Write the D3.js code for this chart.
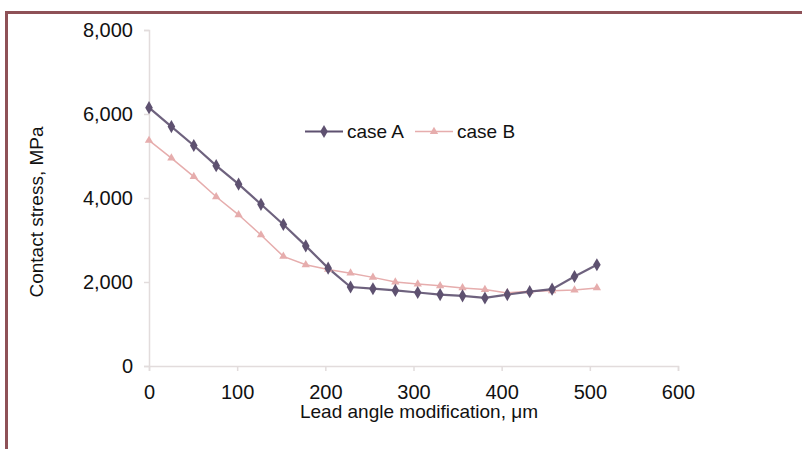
<!DOCTYPE html>
<html><head><meta charset="utf-8">
<script src="https://cdn.jsdelivr.net/npm/d3@7"></script>
<style>body{margin:0;background:#fff;}svg{display:block;font-family:"Liberation Sans",Arial,sans-serif;}</style>
</head><body>
<svg id="c" width="802" height="449"></svg>
<script>
const xValues = d3.range(21).map(i => +(i * 25.4).toFixed(1));
const caseA = [6150, 5700, 5250, 4770, 4330, 3850, 3370, 2860, 2330, 1880, 1840, 1800, 1750, 1700, 1670, 1620, 1700, 1770, 1830, 2130, 2410];
const caseB = [5370, 4950, 4510, 4030, 3600, 3120, 2610, 2410, 2300, 2210, 2110, 2000, 1950, 1910, 1860, 1820, 1740, 1780, 1790, 1810, 1860];
const xTicks = [0, 100, 200, 300, 400, 500, 600];
const yTicks = [0, 2000, 4000, 6000, 8000];
const seriesNames = ["case A", "case B"];

const svg = d3.select("#c");
// frame
svg.append("rect").attr("x", 6.5).attr("y", 12.5).attr("width", 900).attr("height", 600)
  .attr("fill", "none").attr("stroke", "#8e5157").attr("stroke-width", 3);

const x = d3.scaleLinear().domain([0, 600]).range([149, 678]);
const y = d3.scaleLinear().domain([0, 8000]).range([366, 30]);

const fmt = d3.format(",");
const xAxis = svg.append("g").attr("transform", "translate(0,366)")
  .call(d3.axisBottom(x).tickValues(xTicks).tickSize(5).tickPadding(14).tickFormat(d3.format("d")));
const yAxis = svg.append("g").attr("transform", "translate(149,0)")
  .call(d3.axisLeft(y).tickValues(yTicks).tickSize(5).tickPadding(11).tickFormat(fmt));
[xAxis, yAxis].forEach(g => {
  g.select(".domain").attr("stroke", "#e2dcdc").attr("stroke-width", 1.5);
  g.selectAll(".tick line").attr("stroke", "#e2dcdc").attr("stroke-width", 1.5);
  g.selectAll("text").attr("fill", "#111").style("font-size", "20px").style("font-family", "Liberation Sans, Arial, sans-serif");
});

svg.append("text").attr("x", 419).attr("y", 418).attr("text-anchor", "middle")
  .style("font-size", "19px").attr("fill", "#111").text("Lead angle modification, μm");
svg.append("text").attr("transform", "translate(43,212) rotate(-90)").attr("text-anchor", "middle")
  .style("font-size", "19px").attr("fill", "#111").text("Contact stress, MPa");

const colA = "#5e5170", colB = "#e6adad";
const line = d3.line().x((d, i) => x(xValues[i])).y(d => y(d));

svg.append("path").datum(caseB).attr("d", line).attr("fill", "none").attr("stroke", colB).attr("stroke-width", 1.5);
svg.append("path").datum(caseA).attr("d", line).attr("fill", "none").attr("stroke", colA).attr("stroke-width", 2.2).attr("stroke-opacity", 0.9);

const triB = d3.symbol().type(d3.symbolTriangle).size(30);
const diaA = d3.symbol().type(d3.symbolDiamond).size(50);
svg.append("g").selectAll("path").data(caseB).join("path")
  .attr("transform", (d, i) => `translate(${x(xValues[i])},${y(d)})`).attr("d", triB).attr("fill", colB);
svg.append("g").selectAll("path").data(caseA).join("path")
  .attr("transform", (d, i) => `translate(${x(xValues[i])},${y(d)})`).attr("d", diaA).attr("fill", colA);

// legend
const leg = svg.append("g");
const items = [{name: seriesNames[0], x0: 305, col: colA, sym: diaA, w: 2.2},
               {name: seriesNames[1], x0: 415, col: colB, sym: triB, w: 1.5}];
items.forEach(it => {
  leg.append("line").attr("x1", it.x0).attr("x2", it.x0 + 38).attr("y1", 131.5).attr("y2", 131.5)
    .attr("stroke", it.col).attr("stroke-width", it.w);
  leg.append("path").attr("transform", `translate(${it.x0 + 19},131.5)`).attr("d", it.sym).attr("fill", it.col);
  leg.append("text").attr("x", it.x0 + 42).attr("y", 138).style("font-size", "19px").attr("fill", "#111").text(it.name);
});
</script>
</body></html>
